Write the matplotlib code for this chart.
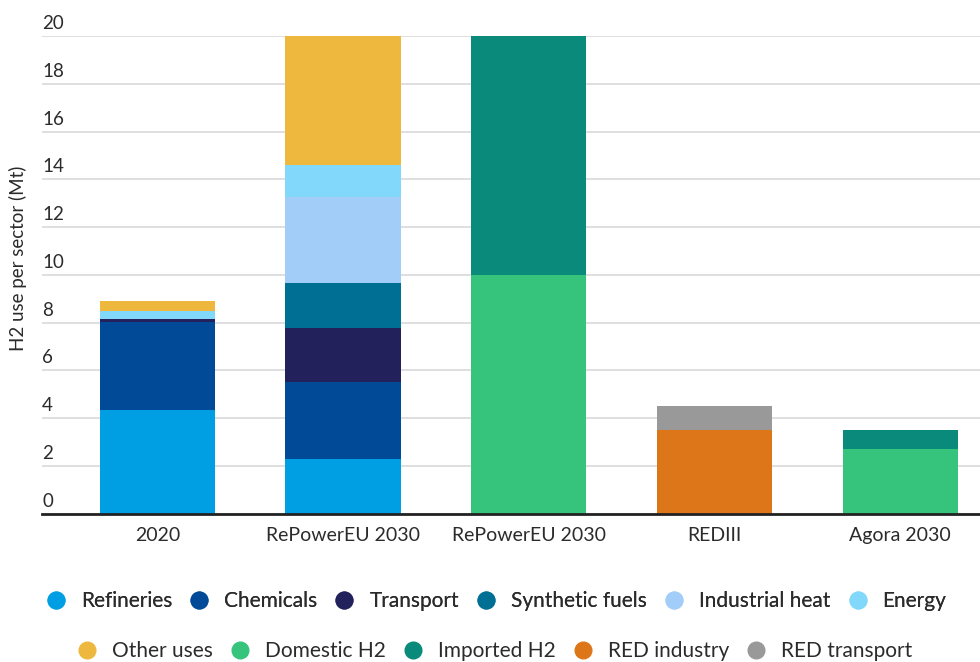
import numpy as np
import matplotlib.pyplot as plt
from matplotlib.lines import Line2D
from matplotlib import transforms

plt.rcParams['font.family'] = ['Lato', 'DejaVu Sans']

# categories along the x axis
scenarios = ["2020", "RePowerEU 2030", "RePowerEU 2030", "REDIII", "Agora 2030"]

# stacked segments (Mt H2), one list per sector, one value per scenario
refineries     = [4.35, 2.28, 0, 0, 0]
chemicals      = [3.67, 3.23, 0, 0, 0]
transport      = [0.14, 2.27, 0, 0, 0]
synthetic_fuel = [0.00, 1.86, 0, 0, 0]
industrial_heat = [0.00, 3.60, 0, 0, 0]
energy         = [0.31, 1.37, 0, 0, 0]
other_uses     = [0.43, 5.39, 0, 0, 0]
domestic_h2    = [0, 0, 10.0, 0, 2.7]
imported_h2    = [0, 0, 10.0, 0, 0.8]
red_industry   = [0, 0, 0, 3.5, 0]
red_transport  = [0, 0, 0, 1.0, 0]

series = [
    ("Refineries", refineries, "#009fe3"),
    ("Chemicals", chemicals, "#004a98"),
    ("Transport", transport, "#23215b"),
    ("Synthetic fuels", synthetic_fuel, "#006f94"),
    ("Industrial heat", industrial_heat, "#a3cdf9"),
    ("Energy", energy, "#82d8fa"),
    ("Other uses", other_uses, "#edb83d"),
    ("Domestic H2", domestic_h2, "#36c47c"),
    ("Imported H2", imported_h2, "#0a8a7a"),
    ("RED industry", red_industry, "#dd7619"),
    ("RED transport", red_transport, "#999999"),
]

yticks = [0, 2, 4, 6, 8, 10, 12, 14, 16, 18, 20]

fig = plt.figure(figsize=(9.8, 6.62), dpi=100)
ax = fig.add_axes([0.043, 0.2243, 0.957, 0.7213])

x = np.arange(len(scenarios))
bottom = np.zeros(len(scenarios))
for name, vals, col in series:
    vals = np.array(vals)
    ax.bar(x, vals, width=0.62, bottom=bottom, color=col, zorder=3)
    bottom += vals

ax.set_xlim(-0.62, 4.43)
ax.set_ylim(0, 20)

# grid lines with labels sitting on top of them
ax.set_yticks(yticks)
ax.set_yticklabels([])
ax.tick_params(axis='y', length=0)
ax.grid(axis='y', color='#d9d9d9', linewidth=1.2, zorder=0)
offset = transforms.offset_copy(ax.get_yaxis_transform(), fig=fig, x=0, y=4, units='dots')
for t in yticks:
    ax.text(0, t, str(t), transform=offset, ha='left', va='bottom',
            fontsize=13.5, color='#2b2b2b')

ax.set_xticks(x)
ax.set_xticklabels(scenarios, fontsize=14, color='#2b2b2b')
ax.tick_params(axis='x', length=0, pad=10)

for s in ['top', 'right', 'left']:
    ax.spines[s].set_visible(False)
ax.spines['bottom'].set_linewidth(2)
ax.spines['bottom'].set_color('#222222')
ax.spines['bottom'].set_zorder(4)

fig.text(0.018, 0.61, "H2 use per sector (Mt)", rotation=90, ha='center', va='center',
         fontsize=13.5, color='#2b2b2b')

# legend in two centred rows
handles = [Line2D([], [], marker='o', linestyle='', markersize=12,
                  markerfacecolor=col, markeredgecolor=col) for _, _, col in series]
labels = [name for name, _, _ in series]
kw = dict(frameon=False, fontsize=15, handlelength=0.8, handletextpad=0.8,
          columnspacing=0.9, labelcolor='#2b2b2b')
leg1 = fig.legend(handles[:6], labels[:6], loc='center', ncol=6,
                  bbox_to_anchor=(0.507, 0.092), **kw)
fig.add_artist(leg1)
fig.legend(handles[6:], labels[6:], loc='center', ncol=5,
           bbox_to_anchor=(0.506, 0.0166), **kw)

fig.savefig("out.png", dpi=100)
